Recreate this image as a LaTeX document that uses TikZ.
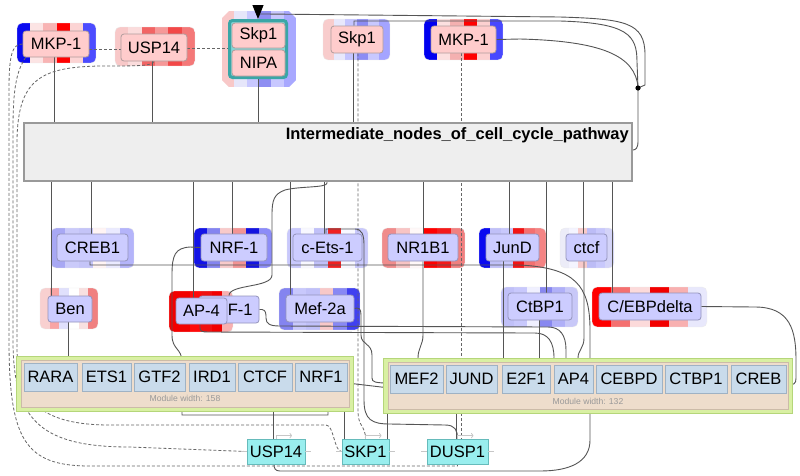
\documentclass[tikz,border=0pt]{standalone}
\usepackage{fontspec}
\setmainfont{Liberation Sans}
\usetikzlibrary{arrows.meta,backgrounds}
\pgfdeclarelayer{bg}
\pgfdeclarelayer{stripes}
\pgfdeclarelayer{edges}
\pgfsetlayers{bg,stripes,edges,main}
\definecolor{pinkin}{HTML}{FFCCCC}
\definecolor{pinkbd}{HTML}{B09C9C}
\definecolor{lavin}{HTML}{CCCCFF}
\definecolor{lavbd}{HTML}{9494BC}
\definecolor{interfill}{HTML}{EEEEEE}
\definecolor{interbd}{HTML}{999999}
\definecolor{modgreen}{HTML}{D9F0A3}
\definecolor{modgreenbd}{HTML}{B5D67A}
\definecolor{modtan}{HTML}{EEDDCC}
\definecolor{modtanbd}{HTML}{CCBBA8}
\definecolor{cellfill}{HTML}{C9DBEB}
\definecolor{cellbd}{HTML}{9FB2C4}
\definecolor{cyanfill}{HTML}{99EEEE}
\definecolor{cyanbd}{HTML}{66BBBB}
\definecolor{tealbd}{HTML}{3AA6A6}
\definecolor{tealin}{HTML}{86D6D6}
\definecolor{edgec}{HTML}{555555}
\definecolor{dashc}{HTML}{666666}
\newcommand{\stripebox}[5]{%
  \begin{scope}
    \clip[rounded corners=5pt] (#1,#2) rectangle (#3,#4);
    \foreach \cc [count=\ii from 0] in {#5} {
      \edef\tmpdef{\noexpand\definecolor{tmpc}{HTML}{\cc}}\tmpdef
      \fill[tmpc] ({#1+\ii*(#3-#1)/6},#2) rectangle ({#1+(\ii+1)*(#3-#1)/6+0.4},#4);
    }
  \end{scope}
  \draw[black!8, rounded corners=5pt] (#1,#2) rectangle (#3,#4);
}
\newcommand{\stripeoct}[5]{%
  \begin{scope}
    \clip ({#1+7},#2) -- ({#3-7},#2) -- (#3,{#2+7}) -- (#3,{#4-7}) -- ({#3-7},#4) -- ({#1+7},#4) -- (#1,{#4-7}) -- (#1,{#2+7}) -- cycle;
    \foreach \cc [count=\ii from 0] in {#5} {
      \edef\tmpdef{\noexpand\definecolor{tmpc}{HTML}{\cc}}\tmpdef
      \fill[tmpc] ({#1+\ii*(#3-#1)/6},#2) rectangle ({#1+(\ii+1)*(#3-#1)/6+0.4},#4);
    }
  \end{scope}
}
\tikzset{
  nfont/.style={font=\fontsize{16.5}{19}\selectfont},
  pinkbox/.style={nfont, draw=pinkbd, fill=pinkin, rounded corners=3pt, inner sep=0pt, line width=0.8pt},
  lavbox/.style={nfont, draw=lavbd, fill=lavin, rounded corners=3pt, inner sep=0pt, line width=0.8pt},
  cellbox/.style={nfont, draw=cellbd, fill=cellfill, inner sep=0pt, line width=0.8pt, minimum height=28},
  cyanbox/.style={nfont, draw=cyanbd, fill=cyanfill, inner sep=0pt, line width=0.8pt, minimum height=25},
  modlabel/.style={font=\fontsize{8.6}{10}\selectfont, text=black!40, inner sep=0pt},
  ln/.style={draw=edgec, line width=0.9pt},
  dl/.style={draw=dashc, line width=0.8pt, dash pattern=on 3pt off 2pt},
  glyph/.style={draw=black!22, line width=0.8pt},
}
\begin{document}
\begin{tikzpicture}[x=1pt,y=-1pt]
\begin{pgfonlayer}{bg}
\fill[white] (0,0) rectangle (800,475);
\end{pgfonlayer}
\useasboundingbox (0,0) rectangle (800,475);

% ---------- striped outer boxes ----------
\begin{pgfonlayer}{stripes}
\stripebox{17}{23}{96}{63}{0A0AF0,FCE4E4,F8B4B4,FF0000,FCD4D4,4C4CFF}
\stripebox{115}{27}{195}{66}{F8C8C8,FBDCDC,F26464,F69898,F24848,F47878}
\stripeoct{222}{11}{296}{87}{F8C8C8,E6E6FA,C8C8FF,8E8EF2,C8C8FF,A8A8FF}
\stripebox{323}{19}{390}{60}{F8CCCC,E8E8FC,C4C4FF,8C8CF4,C8C8FF,A4A4FF}
\stripebox{424}{19}{503}{60}{0000F0,FCE0E0,F4B0B0,FF0000,FCD0D0,4848FF}
\stripebox{51}{228}{134}{268}{A8A8F4,CACAFA,C4C4F8,FFF4F4,EAEAFF,B4B4FA}
\stripebox{194}{228}{272}{268}{1414E6,8484F0,F8CACA,F29494,1414E0,8C8CF8}
\stripebox{287}{228}{368}{268}{C8C8FC,F8F8FF,C0C0F8,F02020,F8F8FF,C8C8FC}
\stripebox{382}{228}{465}{268}{F08C8C,F8C4C4,FFF8F8,FF0000,F41A1A,F08080}
\stripebox{479}{228}{546}{268}{0A0AF0,C0C0F8,C8C8FC,F21414,F47070,F48484}
\stripebox{560}{228}{614}{268}{ECECF8,F4F4FF,F8CACA,BCBCF6,C8C8FC,D4D4F8}
\stripebox{40}{288}{98}{329}{F8D0D0,F8A4A4,E0E0FC,FFFFFF,F8E0E0,F08080}
\stripebox{169}{291}{233}{332}{F20000,F20000,FF0A0A,F01010,F20000,F8B0B0}
\stripebox{279}{288}{360}{330}{8484F0,C8C8FC,C0C0F8,F8C8C8,8888F4,4040F0}
\stripebox{501}{287}{578}{327}{C0C0F8,C8C8FC,F0F0FF,8888F0,B0B0F8,C8C8F8}
\stripebox{592}{287}{707}{327}{FF0000,F47070,FCDADA,F20000,F8B0B0,E8E8FC}
\end{pgfonlayer}

% ---------- top row ----------
\node[pinkbox, minimum width=66, minimum height=26] (mkpL) at (56,44) {MKP-1};
\node[pinkbox, minimum width=66, minimum height=27] (usp) at (154,47.5) {USP14};
\node[draw=tealbd, fill=tealin, line width=3pt, rounded corners=3pt, inner sep=0pt, minimum width=57, minimum height=57] (skpgrp) at (258,49) {};
\node[pinkbox, minimum width=53, minimum height=25] (skptop) at (258.5,35.5) {Skp1};
\node[pinkbox, minimum width=53, minimum height=26] (nipa) at (258.5,63) {NIPA};
\node[pinkbox, minimum width=52, minimum height=27] (skpM) at (357,39.5) {Skp1};
\node[pinkbox, minimum width=65, minimum height=27] (mkpR) at (463.5,39.5) {MKP-1};

% ---------- intermediate box ----------
\node[draw=interbd, fill=interfill, line width=1.2pt, inner sep=0pt, minimum width=608, minimum height=58] (inter) at (328,152) {};
\node[anchor=base east, inner sep=0pt, font=\bfseries\fontsize{16.5}{19}\selectfont] (intertitle) at (629,139) {Intermediate\_nodes\_of\_cell\_cycle\_pathway};

% ---------- middle rows ----------
\node[lavbox, minimum width=71, minimum height=27] (creb1) at (92.5,247.5) {CREB1};
\node[lavbox, minimum width=66, minimum height=27] (nrf1) at (234,247.5) {NRF-1};
\node[lavbox, minimum width=69, minimum height=27] (cets) at (327.5,247.5) {c-Ets-1};
\node[lavbox, minimum width=70, minimum height=27] (nr1b1) at (423,247.5) {NR1B1};
\node[lavbox, minimum width=53, minimum height=27] (jund) at (512.5,247.5) {JunD};
\node[lavbox, minimum width=41, minimum height=27] (ctcf) at (586.5,247.5) {ctcf};

\node[lavbox, minimum width=44, minimum height=26] (ben) at (70,309) {Ben};
\node[lavbox, minimum width=60, minimum height=27, text width=47, align=right] (f1) at (229,309.5) {F-1};
\node[lavbox, minimum width=51, minimum height=26] (ap4) at (201.5,311) {AP-4};
\node[lavbox, minimum width=68, minimum height=27] (mef2a) at (320,308.5) {Mef-2a};
\node[lavbox, minimum width=64, minimum height=27] (ctbp1) at (540,306.5) {CtBP1};
\node[lavbox, minimum width=102, minimum height=27] (cebpd) at (650,306.5) {C/EBPdelta};

% ---------- modules ----------
\node[draw=modgreenbd, fill=modgreen, line width=1pt, inner sep=0pt, minimum width=337, minimum height=55] (mod1) at (184.5,383.5) {};
\node[draw=modtanbd, fill=modtan, line width=0.8pt, inner sep=0pt, minimum width=328, minimum height=47] (mod1in) at (185,383.5) {};
\node[cellbox, minimum width=53] (rara) at (50.5,377) {RARA};
\node[cellbox, minimum width=49] (ets1) at (106.5,377) {ETS1};
\node[cellbox, minimum width=51] (gtf2) at (159.5,377) {GTF2};
\node[cellbox, minimum width=46] (ird1) at (212,377) {IRD1};
\node[cellbox, minimum width=54] (ctcfcell) at (265,377) {CTCF};
\node[cellbox, minimum width=52] (nrf1cell) at (321,377) {NRF1};
\node[modlabel] (m1label) at (185,398) {Module width: 158};

\node[draw=modgreenbd, fill=modgreen, line width=1pt, inner sep=0pt, minimum width=409, minimum height=55] (mod2) at (587.5,385.5) {};
\node[draw=modtanbd, fill=modtan, line width=0.8pt, inner sep=0pt, minimum width=400, minimum height=47] (mod2in) at (588,385.5) {};
\node[cellbox, minimum width=53] (mefcell) at (416.5,379) {MEF2};
\node[cellbox, minimum width=51] (jundcell) at (471.5,379) {JUND};
\node[cellbox, minimum width=48] (e2f1cell) at (526,379) {E2F1};
\node[cellbox, minimum width=39] (ap4cell) at (573.5,379) {AP4};
\node[cellbox, minimum width=66] (cebpdcell) at (629,379) {CEBPD};
\node[cellbox, minimum width=62] (ctbp1cell) at (696,379) {CTBP1};
\node[cellbox, minimum width=55] (crebcell) at (758.5,379) {CREB};
\node[modlabel] (m2label) at (588,401) {Module width: 132};

% ---------- bottom gene nodes ----------
\node[cyanbox, minimum width=58] (usp14c) at (276,451.5) {USP14};
\node[cyanbox, minimum width=47] (skp1c) at (365.5,451.5) {SKP1};
\node[cyanbox, minimum width=61] (dusp1c) at (457.5,451.5) {DUSP1};
\foreach \g/\cx in {usp14c/276, skp1c/365.5, dusp1c/457.5} {
  \draw[glyph] (\g.west) -- ++(-6,0);
  \draw[glyph] (\g.east) -- ++(6,0);
  \draw[glyph, -{To[length=2.5pt]}] (\g.north -| \cx,0) -- ++(0,-3) -- ++(16,0);
}

% ---------- hub ----------
\coordinate (hub) at (638,88);
\fill[black] (hub) circle (2.6pt);

% ---------- connectors ----------
\begin{pgfonlayer}{edges}
% top row to intermediate
\draw[ln] (mkpL.south -| 54,0) -- (inter.north -| 54,0);
\draw[ln] (usp.south -| 152,0) -- (inter.north -| 152,0);
\draw[ln] (nipa.south) -- (inter.north -| nipa.south);
\draw[ln] (skpM.south -| 353,0) -- (inter.north -| 353,0);
% dashed top links
\draw[dl] (mkpL.east |- 0,49) -- (usp.west |- 0,49);
\draw[dl] (usp.east |- 0,48) -- (skpgrp.west |- 0,48);
\draw[dl] (skpM.south -| 358,0) -- (358,412) .. controls (358,426) and (365.5,426) .. (skp1c.north);
\draw[dl] (mkpR.south -| 461,0) -- (dusp1c.north -| 461,0);
% hub curves
\draw[ln, -{Triangle[width=11pt,length=14pt,color=black]}] (hub) -- (645,85) -- (645,55) .. controls (645,22) and (625,19) .. (560,17) -- (266,14) -- (258,14) -- (skpgrp.north);
\draw[ln] (skpM.north -| 354,0) -- (354,21) -- (560,21) .. controls (628,23) and (637,35) .. (637,62) -- (hub);
\draw[ln] (mkpR.east) -- (520,39) .. controls (600,41) and (636,55) .. (hub);
\draw[ln] (hub) -- (638,141) .. controls (638,148) and (636,150) .. (inter.east |- 0,150);
% dashed left-side links
\draw[dl] (mkpL.west) .. controls (12,44) and (9,55) .. (9,90) -- (9,340) .. controls (9,440) and (25,466) .. (90,466) -- (457.5,466) -- (dusp1c.south);
\draw[dl] ([xshift=3pt]mkpL.south west) .. controls (16,72) and (13,90) .. (13,130) -- (13,340) .. controls (13,420) and (40,447) .. (130,447) -- (usp14c.west);
\draw[dl] (usp.south) .. controls (152,66) and (140,66) .. (100,66) .. controls (40,67) and (18,80) .. (17,140) -- (17,350) .. controls (18,400) and (40,425) .. (110,425) -- (326,425) .. controls (334,425) and (334,451.5) .. (skp1c.west);
% intermediate to middle nodes
\draw[ln] (inter.south -| 51,0) -- (ben.north -| 51,0);
\draw[ln] (inter.south -| 91,0) -- (creb1.north -| 91,0);
\draw[ln] (inter.south -| 193,0) -- (ap4.north -| 193,0);
\draw[ln] (inter.south -| 232,0) -- (nrf1.north -| 232,0);
\draw[ln] (inter.south -| 290,0) -- (mef2a.north -| 290,0);
\draw[ln] (inter.south -| 324,0) -- (cets.north -| 324,0);
\draw[ln] (inter.south -| 423,0) -- (nr1b1.north);
\draw[ln] (inter.south -| 509,0) -- (jund.north -| 509,0);
\draw[ln] (inter.south -| 546,0) -- (ctbp1.north -| 546,0);
\draw[ln] (inter.south -| 583,0) -- (ctcf.north -| 583,0);
\draw[ln] (inter.south -| 612,0) -- (cebpd.north -| 612,0);
\draw[ln] (inter.south -| 327,0) -- (327,183) .. controls (327,188) and (300,186) .. (285,190) .. controls (274,194) and (272,200) .. (272,215) -- (272,275) .. controls (272,288) and (229,284) .. (f1.north);
% middle nodes to modules
\draw[ln] (ben.south -| 68,0) -- (rara.north -| 68,0);
\draw[ln] (nrf1.west) -- (190,247) .. controls (175,248) and (172,255) .. (172,275) -- (172,335) .. controls (172,350) and (182,348) .. (182,362) -- (182,415) -- (328,415) -- (nrf1cell.south -| 328,0);
\draw[ln] (creb1.south -| 90,0) -- (90,265) -- (520,265) .. controls (575,268) and (590,285) .. (590,330) -- (590,440) .. controls (590,462) and (570,471) .. (540,471) -- (280,471) .. controls (275,471) and (274,468) .. (usp14c.south -| 274,0);
\draw[ln] (f1.east) -- (262,309.5) .. controls (266,310) and (266,314) .. (266,318) .. controls (266,324) and (270,326) .. (280,326) -- (548,327) .. controls (560,327) and (566,335) .. (566,350) -- (ap4cell.north -| 566,0);
\draw[ln] (ap4.south -| 200,0) -- (200,328) .. controls (200,331) and (202,332) .. (208,332) -- (535,333) .. controls (548,333) and (554,342) .. (554,358) -- (e2f1cell.north -| 548,0);
\draw[ln] (mef2a.east) -- (357,308) .. controls (361,308) and (361,312) .. (361,318) -- (361,335) .. controls (361,345) and (372,343) .. (372,355) -- (372,378) .. controls (372,382) and (375,383) .. (mefcell.west |- 0,383);
\draw[ln] (cets.north -| 326,0) -- (326,229) -- (355,229) .. controls (362,229) and (364,235) .. (364,245) -- (364,400) .. controls (364,420) and (372,424) .. (390,424) -- (445,425) .. controls (455,425) and (457.5,430) .. (dusp1c.north);
\draw[ln] (nr1b1.south) -- (423,335) .. controls (423,345) and (418,348) .. (418,358) -- (mefcell.north -| 418,0);
\draw[ln] (jund.south -| 503,0) -- (e2f1cell.north -| 503,0);
\draw[ln] (ctbp1.south -| 539,0) -- (e2f1cell.north -| 539,0);
\draw[ln] (ctcf.south -| 584,0) -- (584,338) .. controls (584,348) and (578,350) .. (578,358) -- (ap4cell.north -| 578,0);
\draw[ln] (cebpd.east) -- (755,307) .. controls (790,307) and (796,330) .. (796,360) -- (796,378) .. controls (796,384) and (794,385) .. (crebcell.east |- 0,385);
\draw[ln] (nrf1cell.east |- 0,383) -- (mefcell.west |- 0,388);
% modules to gene nodes
\draw[ln] (ctcfcell.south -| 273,0) -- (usp14c.north -| 273,0);
\draw[ln] (nrf1cell.south -| 344,0) -- (skp1c.north -| 344,0);
\draw[ln] (mefcell.south -| 387,0) -- (skp1c.north -| 387,0);
\draw[ln] (jundcell.south -| 456,0) -- (dusp1c.north -| 456,0);
\end{pgfonlayer}
\end{tikzpicture}
\end{document}
